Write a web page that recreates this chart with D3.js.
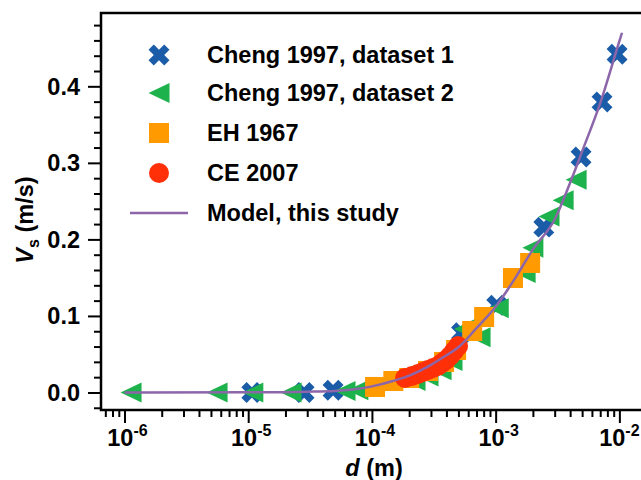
<!DOCTYPE html>
<html><head><meta charset="utf-8">
<script src="https://cdn.jsdelivr.net/npm/d3@7"></script>
<style>
body{margin:0;background:#fff;overflow:hidden}
svg{display:block}
text{font-family:"Liberation Sans",Arial,Helvetica,sans-serif;font-weight:bold;fill:#000}
</style>
</head><body>
<svg id="chart" width="641" height="480"></svg>
<script>
// ---- data ----
const seriesNames = ["Cheng 1997, dataset 1","Cheng 1997, dataset 2","EH 1967","CE 2007","Model, this study"];

const cheng1D = [1.07e-5, 2.83e-5, 4.85e-5, 5.3e-4, 1.02e-3, 2.45e-3, 4.9e-3, 7.24e-3, 9.58e-3];
const cheng1V = [0, 0, 0.003, 0.078, 0.114, 0.216, 0.3076, 0.3795, 0.442];

const cheng2D = [1.13e-6, 5.6e-6, 1.09e-5, 2.22e-5, 6.06e-5, 7.7e-5, 2.23e-4, 2.84e-4, 3.62e-4, 4.44e-4, 5.6e-4, 7.48e-4, 1.05e-3, 1.73e-3, 2.0e-3, 2.7e-3, 3.51e-3, 4.47e-3];
const cheng2V = [0, 0, 0, 0, 0.002, 0.003, 0.015, 0.021, 0.029, 0.041, 0.083, 0.072, 0.110, 0.156, 0.189, 0.230, 0.251, 0.278];

const eh1967D = [1.06e-4, 1.49e-4, 2.0e-4, 2.84e-4, 3.83e-4, 4.79e-4, 6.46e-4, 8.07e-4, 1.38e-3, 1.90e-3];
const eh1967V = [0.0072, 0.0150, 0.0189, 0.0281, 0.0399, 0.0555, 0.0803, 0.0986, 0.1496, 0.1692];

const ce2007D = [1.852e-4, 2.11e-4, 2.36e-4, 2.59e-4, 2.84e-4, 3.12e-4, 3.42e-4, 3.69e-4, 3.97e-4, 4.28e-4, 4.61e-4, 4.97e-4];
const ce2007V = [0.0189, 0.0215, 0.0242, 0.0268, 0.0294, 0.0320, 0.0346, 0.0385, 0.0425, 0.0477, 0.0542, 0.0607];

const modelD = [1e-6, 1e-5, 3e-5, 5e-5, 7e-5, 1e-4, 1.5e-4, 2e-4, 3e-4, 4e-4, 5e-4, 7e-4, 1e-3, 1.5e-3, 2e-3, 3e-3, 4e-3, 5e-3, 7e-3, 1e-2, 1.05e-2];
const modelV = [0, 0.0002, 0.001, 0.002, 0.004, 0.008, 0.0153, 0.022, 0.036, 0.0486, 0.059, 0.084, 0.112, 0.154, 0.187, 0.226, 0.274, 0.315, 0.378, 0.459, 0.470];

const xTickValues = [1e-6, 1e-5, 1e-4, 1e-3, 1e-2];
const xTickExps = ["-6", "-5", "-4", "-3", "-2"];
const yTickValues = [0, 0.1, 0.2, 0.3, 0.4];
const yTickLabels = ["0.0", "0.1", "0.2", "0.3", "0.4"];

// ---- styles ----
const colors = {blue:"#1a5ca8", green:"#1db24b", orange:"#ff9a00", red:"#ff3008", purple:"#8c66a9"};

const svg = d3.select("#chart");
const plotLeft = 101, plotTop = 13, plotBottom = 410, plotRight = 660;

const x = d3.scaleLog().domain([6.46e-7, 2.13e-2]).range([plotLeft, plotRight]);
const y = d3.scaleLinear().domain([-0.0229, 0.4958]).range([plotBottom, plotTop]);

// minor ticks
const xMinor = [];
for (let e = -7; e <= -2; e++) for (let k = 2; k <= 9; k++) {
  const v = k * Math.pow(10, e);
  if (v > x.domain()[0] && v < x.domain()[1]) xMinor.push(v);
}
const yMinor = d3.range(-0.02, 0.481, 0.02).filter(v => Math.abs(Math.round(v*10)/10 - v) > 1e-6);

// axes via d3 axis
const gx = svg.append("g").attr("transform", `translate(0,${plotBottom})`);
gx.call(d3.axisBottom(x).tickValues(xMinor).tickSize(7).tickFormat(""));
gx.append("g").call(d3.axisBottom(x).tickValues(xTickValues).tickSize(13).tickFormat(""));
gx.selectAll(".domain").remove();
gx.selectAll("line").attr("stroke", "#000").attr("stroke-width", 2);

const gy = svg.append("g").attr("transform", `translate(${plotLeft},0)`);
gy.call(d3.axisLeft(y).tickValues(yMinor).tickSize(7).tickFormat(""));
gy.append("g").call(d3.axisLeft(y).tickValues(yTickValues).tickSize(13).tickFormat(""));
gy.selectAll(".domain").remove();
gy.selectAll("line").attr("stroke", "#000").attr("stroke-width", 2);

// frame
svg.append("path")
  .attr("d", `M${plotRight},${plotTop}H${plotLeft}V${plotBottom}H${plotRight}`)
  .attr("fill", "none").attr("stroke", "#000").attr("stroke-width", 2.5);

// tick labels
const xl = svg.append("g").selectAll("text").data(xTickValues).join("text")
  .attr("x", (d, i) => x(d) + (i === xTickValues.length - 1 ? 0 : 3)).attr("y", 446).attr("text-anchor", "middle")
  .style("font-size", "23.5px");
xl.append("tspan").text("10");
xl.append("tspan").attr("dy", -10).style("font-size", "16px").text((d, i) => xTickExps[i]);

svg.append("g").selectAll("text").data(yTickValues).join("text")
  .attr("x", 80).attr("y", d => y(d)).attr("dy", "0.36em").attr("text-anchor", "end")
  .style("font-size", "23.5px").text((d, i) => yTickLabels[i]);

// axis titles
const xt = svg.append("text").attr("x", 374).attr("y", 476).attr("text-anchor", "middle").style("font-size", "23.5px");
xt.append("tspan").style("font-style", "italic").text("d");
xt.append("tspan").text(" (m)");

const yt = svg.append("text").attr("transform", "translate(33,220) rotate(-90)").attr("text-anchor", "middle").style("font-size", "23.5px");
yt.append("tspan").style("font-style", "italic").text("V");
yt.append("tspan").attr("dy", 6).style("font-size", "16px").text("s");
yt.append("tspan").attr("dy", -6).text(" (m/s)");

// symbols
const triLeft = {draw(ctx, size) { const w = 21, h = 20; ctx.moveTo(-w/2, 0); ctx.lineTo(w/2, -h/2); ctx.lineTo(w/2, h/2); ctx.closePath(); }};
const symX = d3.symbol(d3.symbolCross, 274)();
const symTri = d3.symbol(triLeft, 400)();
const symSq = d3.symbol(d3.symbolSquare, 400)();
const symCi = d3.symbol(d3.symbolCircle, 314)();

const plot = svg.append("g");
function drawSeries(ds, vs, path, color, rot) {
  plot.append("g").selectAll("path").data(ds).join("path")
    .attr("d", path).attr("fill", color)
    .attr("transform", (d, i) => `translate(${x(d)},${y(vs[i])})` + (rot ? ` rotate(${rot})` : ""));
}
drawSeries(cheng1D, cheng1V, symX, colors.blue, 45);
drawSeries(cheng2D, cheng2V, symTri, colors.green, 0);
drawSeries(eh1967D, eh1967V, symSq, colors.orange, 0);
drawSeries(ce2007D, ce2007V, symCi, colors.red, 0);

const line = d3.line().x(d => x(d[0])).y(d => y(d[1])).curve(d3.curveMonotoneX);
plot.append("path").datum(modelD.map((d, i) => [d, modelV[i]]))
  .attr("d", line).attr("fill", "none").attr("stroke", colors.purple).attr("stroke-width", 2.5);

// legend
const legRows = [55, 93, 133, 173, 213];
const legSyms = [[symX, colors.blue, 45], [symTri, colors.green, 0], [symSq, colors.orange, 0], [symCi, colors.red, 0]];
const leg = svg.append("g");
legSyms.forEach((s, i) => {
  leg.append("path").attr("d", s[0]).attr("fill", s[1])
    .attr("transform", `translate(159,${legRows[i]})` + (s[2] ? ` rotate(${s[2]})` : ""));
});
leg.append("line").attr("x1", 130).attr("x2", 188).attr("y1", legRows[4]).attr("y2", legRows[4])
  .attr("stroke", colors.purple).attr("stroke-width", 2.5);
leg.selectAll("text").data(seriesNames).join("text")
  .attr("x", 207).attr("y", (d, i) => legRows[i]).attr("dy", "0.36em")
  .style("font-size", "23.5px").text(d => d);
</script>
</body></html>
